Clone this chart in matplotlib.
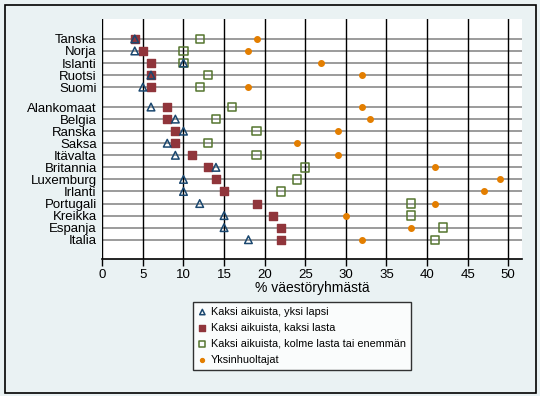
import matplotlib
matplotlib.use('Agg')
import matplotlib.pyplot as plt
from matplotlib.patches import Rectangle

countries = ["Tanska", "Norja", "Islanti", "Ruotsi", "Suomi",
             "Alankomaat", "Belgia", "Ranska", "Saksa", "Itävalta", "Britannia",
             "Luxemburg", "Irlanti", "Portugali", "Kreikka", "Espanja", "Italia"]
one_child = [4, 4, 10, 6, 5, 6, 9, 10, 8, 9, 14, 10, 10, 12, 15, 15, 18]
two_children = [4, 5, 6, 6, 6, 8, 8, 9, 9, 11, 13, 14, 15, 19, 21, 22, 22]
three_plus = [12, 10, 10, 13, 12, 16, 14, 19, 13, 19, 25, 24, 22, 38, 38, 42, 41]
single_parent = [19, 18, 27, 32, 18, 32, 33, 29, 24, 29, 41, 49, 47, 41, 30, 38, 32]
labels = ["Kaksi aikuista, yksi lapsi", "Kaksi aikuista, kaksi lasta",
          "Kaksi aikuista, kolme lasta tai enemmän", "Yksinhuoltajat"]
xticks = list(range(0, 51, 5))

bg = "#eaf2f3"
navy = "#1a476f"
maroon = "#90353b"
green = "#55752f"
orange = "#e37e00"

plt.rcParams['font.family'] = ['Liberation Sans', 'DejaVu Sans']

# first five (Nordic) rows, then a gap before the rest
ypos = [i if i < 5 else i + 0.65 for i in range(len(countries))]

fig = plt.figure(figsize=(5.4, 3.96), dpi=100, facecolor=bg)
fig.patches.append(Rectangle((4.5 / 540, 3.5 / 396), 531 / 540, 388 / 396,
                             transform=fig.transFigure, fill=False,
                             edgecolor="black", linewidth=1.2))
ax = fig.add_axes([102.3 / 540, 1 - 259 / 396, (522 - 102.3) / 540, 240 / 396])
ax.set_facecolor("white")

for y in ypos:
    ax.axhline(y, color="#808080", linewidth=1.1, zorder=1)
for x in xticks:
    ax.axvline(x, color="black", linewidth=1.0, zorder=1)

ax.scatter(two_children, ypos, marker="s", s=40, color=maroon, zorder=3,
           label=labels[1])
ax.scatter(three_plus, ypos, marker="s", s=36, facecolors="none",
           edgecolors=green, linewidths=1.1, zorder=3, label=labels[2])
ax.scatter(single_parent, ypos, marker="o", s=16, color=orange, zorder=3,
           label=labels[3])
ax.scatter(one_child, ypos, marker="^", s=30, facecolors="none",
           edgecolors=navy, linewidths=1.1, zorder=4, label=labels[0])

ax.set_xlim(0, 51.7)
ax.set_ylim(ypos[-1] + 1.6, -1.65)
ax.set_xticks(xticks)
ax.set_yticks(ypos)
ax.set_yticklabels(countries, fontsize=9.5)
ax.tick_params(axis="y", length=0, pad=4)
ax.tick_params(axis="x", length=5, width=1, labelsize=9.5, pad=2)
for side in ("top", "right", "left"):
    ax.spines[side].set_visible(False)
ax.spines["bottom"].set_linewidth(1.2)
ax.set_xlabel("% väestöryhmästä", fontsize=10, labelpad=0)

handles, leg_labels = ax.get_legend_handles_labels()
order = [3, 0, 1, 2]
leg = fig.legend([handles[i] for i in order], [leg_labels[i] for i in order],
                 loc="upper center", bbox_to_anchor=(302 / 540, 1 - 302 / 396),
                 fontsize=7.8, frameon=True, fancybox=False, edgecolor="black",
                 handletextpad=0.4, borderpad=0.45, labelspacing=0.55,
                 handlelength=0.8, markerscale=0.7, borderaxespad=0)
leg.get_frame().set_linewidth(1.0)

fig.savefig("out.png", dpi=100, facecolor=bg)
